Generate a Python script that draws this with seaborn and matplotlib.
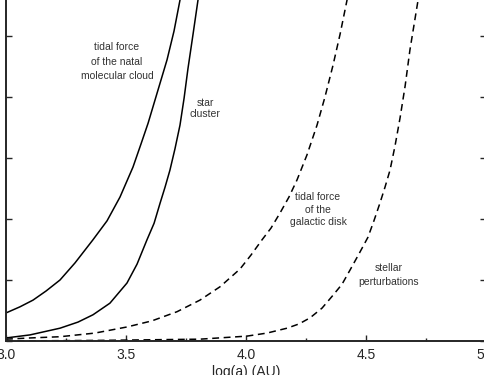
import numpy as np
import pandas as pd
import matplotlib
matplotlib.use('Agg')
import matplotlib.pyplot as plt
import seaborn as sns

# values (x = log(a) in AU, y in units of one y tick)
cloud_x = [3.000, 3.058, 3.1125, 3.167, 3.225, 3.2875, 3.3625, 3.421, 3.475, 3.529,
           3.5625, 3.592, 3.633, 3.671, 3.700, 3.725, 3.746]
cloud_y = [0.46, 0.56, 0.67, 0.82, 1.00, 1.28, 1.66, 1.97, 2.36, 2.85,
           3.23, 3.57, 4.11, 4.61, 5.08, 5.59, 6.07]

cluster_x = [3.000, 3.100, 3.225, 3.300, 3.3625, 3.433, 3.504, 3.546, 3.5875, 3.617,
             3.642, 3.6625, 3.683, 3.704, 3.725, 3.742, 3.758, 3.779, 3.800, 3.817]
cluster_y = [0.05, 0.10, 0.21, 0.31, 0.43, 0.62, 0.95, 1.26, 1.66, 1.93,
             2.26, 2.52, 2.80, 3.15, 3.54, 3.98, 4.46, 5.02, 5.59, 6.03]

disk_x = [3.000, 3.100, 3.225, 3.371, 3.504, 3.608, 3.7125, 3.808, 3.892, 3.975,
          4.021, 4.067, 4.104, 4.142, 4.179, 4.2125, 4.254, 4.296, 4.329, 4.3625,
          4.392, 4.421, 4.442]
disk_y = [0.03, 0.05, 0.07, 0.13, 0.23, 0.33, 0.48, 0.67, 0.89, 1.18,
          1.41, 1.66, 1.85, 2.10, 2.36, 2.64, 3.05, 3.54, 4.00, 4.52,
          5.03, 5.59, 6.03]

stellar_x = [3.000, 3.392, 3.600, 3.808, 4.004, 4.0875, 4.171, 4.221, 4.267, 4.317,
             4.3625, 4.400, 4.433, 4.471, 4.508, 4.533, 4.558, 4.579, 4.600, 4.621,
             4.642, 4.663, 4.683, 4.700, 4.717, 4.733]
stellar_y = [0.00, 0.01, 0.02, 0.03, 0.08, 0.13, 0.21, 0.28, 0.38, 0.54,
             0.75, 0.93, 1.16, 1.43, 1.70, 1.97, 2.26, 2.52, 2.80, 3.20,
             3.66, 4.18, 4.77, 5.18, 5.59, 6.03]

xticks = [3.0, 3.5, 4.0, 4.5, 5.0]
xtick_labels = ['3.0', '3.5', '4.0', '4.5', '5.0']

sns.set_style('ticks')
plt.rcParams['font.family'] = ['Liberation Sans', 'DejaVu Sans']

fig = plt.figure(figsize=(4.84, 3.75), dpi=100)
ax = fig.add_axes([6 / 484, 34 / 375, 480 / 484, 366 / 375])

solid = dict(color='black', linewidth=1.1, ax=ax, estimator=None, sort=False)
sns.lineplot(x=cloud_x, y=cloud_y, **solid)
sns.lineplot(x=cluster_x, y=cluster_y, **solid)
sns.lineplot(x=disk_x, y=disk_y, linestyle=(0, (4.5, 3)), **solid)
sns.lineplot(x=stellar_x, y=stellar_y, linestyle=(0, (4.5, 3)), **solid)

ax.set_xlim(3.0, 5.0)
ax.set_ylim(0, 6)
ax.set_xticks(xticks)
ax.set_xticklabels(xtick_labels, fontsize=10)
ax.set_xticks([3.25, 3.75, 4.25, 4.75], minor=True)
ax.set_yticks(range(0, 7))
ax.set_yticklabels([])
ax.tick_params(axis='both', which='major', direction='in', length=4, width=1, pad=5)
ax.tick_params(axis='x', which='minor', direction='in', length=2.5, width=1)
ax.tick_params(axis='y', right=True)
for side in ['left', 'bottom', 'right', 'top']:
    ax.spines[side].set_linewidth(1.4)
ax.set_xlabel('log(a) (AU)', fontsize=10, labelpad=2)
ax.set_ylabel('')

txt = dict(fontsize=7.5, color='#333333', ha='center', va='center')
ax.text(3.4625, 4.82, 'tidal force', **txt)
ax.text(3.4625, 4.57, 'of the natal', **txt)
ax.text(3.4625, 4.34, 'molecular cloud', **txt)
ax.text(3.829, 3.90, 'star', **txt)
ax.text(3.829, 3.72, 'cluster', **txt)
ax.text(4.30, 2.36, 'tidal force', **txt)
ax.text(4.30, 2.15, 'of the', **txt)
ax.text(4.30, 1.95, 'galactic disk', **txt)
ax.text(4.596, 1.20, 'stellar', **txt)
ax.text(4.596, 0.97, 'perturbations', **txt)

fig.savefig('out.png', dpi=100)
